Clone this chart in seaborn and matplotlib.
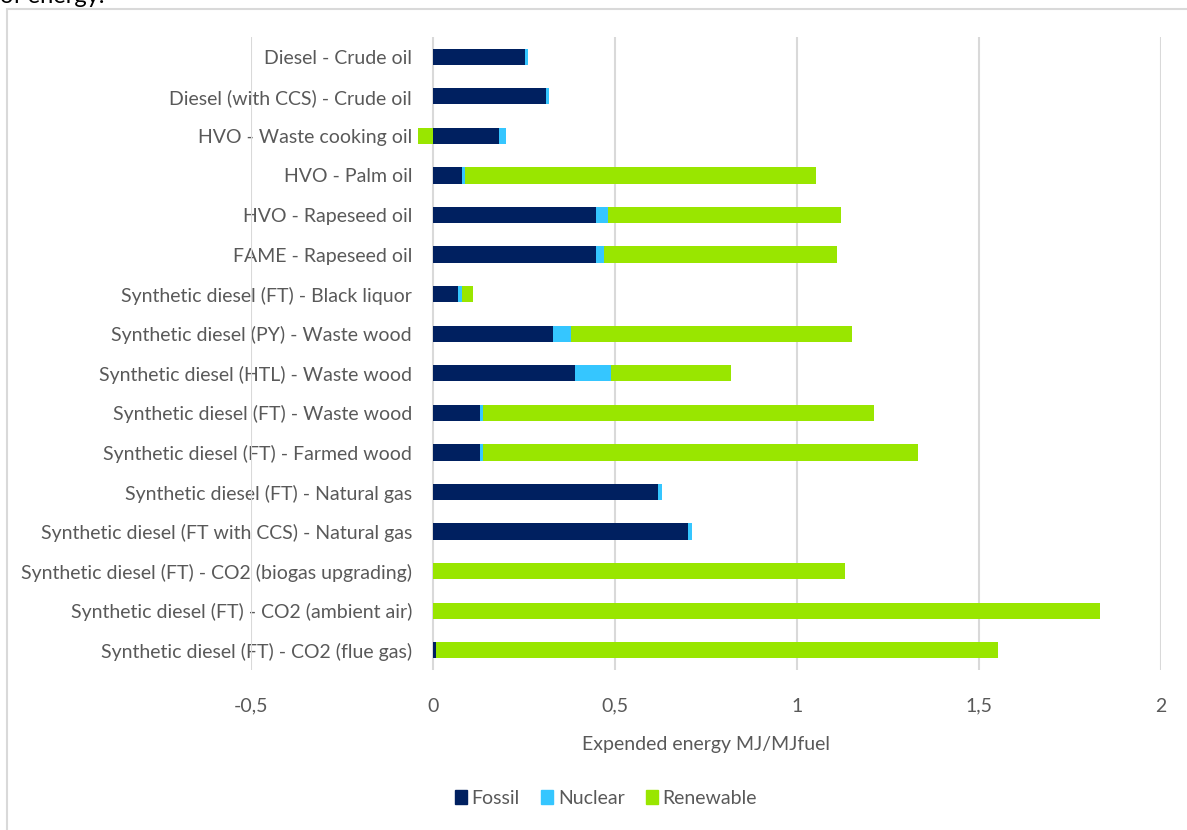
import numpy as np
import pandas as pd
import seaborn as sns
import matplotlib.pyplot as plt
from matplotlib.patches import Rectangle, Patch

pathways = [
    'Diesel - Crude oil',
    'Diesel (with CCS) - Crude oil',
    'HVO - Waste cooking oil',
    'HVO - Palm oil',
    'HVO - Rapeseed oil',
    'FAME - Rapeseed oil',
    'Synthetic diesel (FT) - Black liquor',
    'Synthetic diesel (PY) - Waste wood',
    'Synthetic diesel (HTL) - Waste wood',
    'Synthetic diesel (FT) - Waste wood',
    'Synthetic diesel (FT) - Farmed wood',
    'Synthetic diesel (FT) - Natural gas',
    'Synthetic diesel (FT with CCS) - Natural gas',
    'Synthetic diesel (FT) - CO2 (biogas upgrading)',
    'Synthetic diesel (FT) - CO2 (ambient air)',
    'Synthetic diesel (FT) - CO2 (flue gas)',
]
fossil = [0.253, 0.31, 0.18, 0.08, 0.449, 0.449, 0.069, 0.33, 0.39, 0.129, 0.129, 0.619, 0.70, 0.0, 0.0, 0.007]
nuclear = [0.007, 0.01, 0.02, 0.009, 0.031, 0.02, 0.011, 0.05, 0.10, 0.008, 0.008, 0.011, 0.011, 0.0, 0.0, 0.0]
renewable = [0.0, 0.0, -0.04, 0.962, 0.641, 0.642, 0.029, 0.771, 0.33, 1.075, 1.195, 0.0, 0.0, 1.132, 1.832, 1.545]

colors = {'Fossil': '#002060', 'Nuclear': '#35C6FF', 'Renewable': '#99E600'}
grey = '#595959'

df = pd.DataFrame({'Pathway': pathways, 'Fossil': fossil, 'Nuclear': nuclear, 'Renewable': renewable})
# excel stacks negatives from zero, positives on top of the others
df['left_nuc'] = df['Fossil']
df['left_ren'] = np.where(df['Renewable'] < 0, 0, df['Fossil'] + df['Nuclear'])

sns.set_theme(style='white')
plt.rcParams['font.family'] = ['Lato', 'DejaVu Sans']

fig = plt.figure(figsize=(11.87, 8.3), dpi=100)
ax = fig.add_axes([251 / 1187, 1 - 670 / 830, (1161 - 251) / 1187, 633 / 830])

sns.barplot(data=df, y='Pathway', x='Fossil', color=colors['Fossil'], orient='h', saturation=1,
            width=0.41, linewidth=0, ax=ax, zorder=3)
sns.barplot(data=df, y='Pathway', x='Nuclear', color=colors['Nuclear'], orient='h', saturation=1,
            width=0.41, linewidth=0, left=df['left_nuc'].values, ax=ax, zorder=3)
sns.barplot(data=df, y='Pathway', x='Renewable', color=colors['Renewable'], orient='h', saturation=1,
            width=0.41, linewidth=0, left=df['left_ren'].values, ax=ax, zorder=3)

ax.set_xlim(-0.5, 2)
ax.set_ylim(len(pathways) - 0.5, -0.5)
ticks = [-0.5, 0, 0.5, 1, 1.5, 2]
ax.set_xticks(ticks)
ax.set_xticklabels([f'{t:g}'.replace('.', ',') for t in ticks])
for t in ticks:
    ax.axvline(t, color='#D9D9D9', lw=1.5, zorder=1)
for s in ax.spines.values():
    s.set_visible(False)

ax.tick_params(axis='x', length=0, pad=20, labelsize=14, labelcolor=grey)
ax.tick_params(axis='y', length=0, pad=-116, labelsize=14, labelcolor=grey)
ax.set_ylabel('')
ax.set_xlabel('Expended energy MJ/MJfuel', fontsize=14, color=grey, labelpad=15)

handles = [Patch(color=c, label=k) for k, c in colors.items()]
fig.legend(handles=handles, loc='center', bbox_to_anchor=(606 / 1187, 1 - 798 / 830), ncol=3,
           frameon=False, fontsize=14, labelcolor=grey, handlelength=0.6, handleheight=0.7,
           handletextpad=0.25, columnspacing=1.1)

# chart frame and the cut-off caption above it
fig.patches.append(Rectangle((7 / 1187, -0.1), 1.2, 1.1 - 9 / 830, transform=fig.transFigure,
                             fill=False, edgecolor='#D9D9D9', lw=1.5))
fig.text(0.0, 1 - 3 / 830, 'of energy.', fontsize=17, color='black', va='baseline')

fig.savefig('out.png', dpi=100)
